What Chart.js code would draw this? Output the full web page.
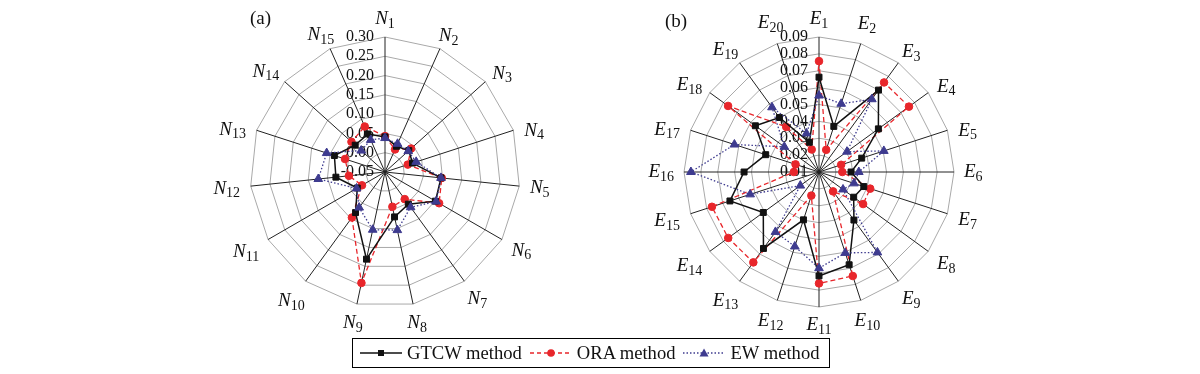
<!DOCTYPE html>
<html>
<head>
<meta charset="utf-8">
<script src="https://cdn.jsdelivr.net/npm/chart.js@4/dist/chart.umd.min.js"></script>
<style>
  body { margin:0; background:#fff; width:1200px; height:374px; position:relative; overflow:hidden; font-family:"Liberation Serif", "Times New Roman", serif; }
  canvas { position:absolute; top:0; }
  #chartA { left:170px; }
  #chartB { left:605px; }
  #legend { position:absolute; left:352px; top:338px; width:469px; height:28px; border:1.5px solid #000; display:flex; align-items:center; font-size:18.6px; color:#111; padding-left:7px; box-sizing:content-box; white-space:nowrap; }
  #legend .item { display:flex; align-items:center; margin-right:8px; flex-shrink:0; }
  #legend svg { margin-right:5px; flex-shrink:0; }
</style>
</head>
<body>
<canvas id="chartA" width="430" height="340"></canvas>
<canvas id="chartB" width="430" height="340"></canvas>
<div id="legend"></div>
<script>
// (a) criteria weights N1..N15
const labelsA = ['N1','N2','N3','N4','N5','N6','N7','N8','N9','N10','N11','N12','N13','N14','N15'];
const gtcwA = [0.041,0.023,0.033,0.025,0.096,0.101,0.053,0.069,0.181,0.080,0.033,0.078,0.088,0.054,0.058];
const oraA  = [0.043,0.014,0.041,0.012,0.098,0.112,0.037,0.042,0.244,0.096,0.019,0.044,0.059,0.067,0.079];
const ewA   = [0.038,0.030,0.031,0.035,0.096,0.103,0.063,0.104,0.103,0.064,0.035,0.124,0.109,0.033,0.041];
const ticksA = ['0.30','0.25','0.20','0.15','0.10','0.05','0.00','-0.05'];

// (b) indicator weights E1..E20
const labelsB = ['E1','E2','E3','E4','E5','E6','E7','E8','E9','E10','E11','E12','E13','E14','E15','E16','E17','E18','E19','E20'];
const gtcwB = [0.0662,0.0384,0.0700,0.0535,0.0366,0.0290,0.0379,0.0354,0.0452,0.0678,0.0716,0.0398,0.0660,0.0508,0.0655,0.0544,0.0432,0.0566,0.0499,0.0285];
const oraB  = [0.0757,0.0238,0.0756,0.0759,0.0238,0.0238,0.0419,0.0423,0.0242,0.0748,0.0760,0.0247,0.0762,0.0765,0.0767,0.0249,0.0246,0.0766,0.0430,0.0240];
const ewB   = [0.0553,0.0525,0.0633,0.0305,0.0504,0.0336,0.0318,0.0276,0.0689,0.0604,0.0670,0.0564,0.0539,0.0237,0.0529,0.0859,0.0627,0.0354,0.0574,0.0340];
const ticksB = ['0.09','0.08','0.07','0.06','0.05','0.04','0.03','0.02','0.01'];

const BLACK = '#111111', RED = '#e8262b', BLUE = '#3e3b8f';
const SERIF = '"Liberation Serif", "Times New Roman", serif';

// tick labels under the data, axis labels with subscripts and panel tag on top
const radarText = {
  id: 'radarText',
  beforeDatasetsDraw(chart, args, opts) {
    const r = chart.scales.r, ctx = chart.ctx;
    ctx.save();
    ctx.font = '16px ' + SERIF;
    ctx.fillStyle = '#111';
    ctx.textAlign = 'right';
    ctx.textBaseline = 'middle';
    opts.ticks.forEach(t => {
      const d = r.getDistanceFromCenterForValue(parseFloat(t));
      ctx.fillText(t, r.xCenter - 11, r.yCenter - d);
    });
    ctx.restore();
  },
  afterDraw(chart, args, opts) {
    const r = chart.scales.r, ctx = chart.ctx;
    const R = r.drawingArea;
    ctx.save();
    ctx.fillStyle = '#111';
    ctx.textAlign = 'left';
    ctx.textBaseline = 'middle';
    chart.data.labels.forEach((lab, i) => {
      const m = lab.match(/^([A-Z]+)(\d+)$/);
      ctx.font = 'italic 19px ' + SERIF;
      const w1 = ctx.measureText(m[1]).width;
      ctx.font = '14px ' + SERIF;
      const w2 = ctx.measureText(m[2]).width;
      const w = w1 + w2, h = 16;
      const ang = r.getIndexAngle(i);
      const s = Math.abs(Math.sin(ang)), c = Math.abs(Math.cos(ang));
      const p = r.getPointPosition(i, R + 10 + s * w / 2 + c * h / 2);
      // upper diagonal labels sit a little lower in the original
      const dy = (Math.cos(ang) > 0.15 && s > 0.35) ? 7 : 0;
      const x0 = p.x - w / 2;
      ctx.font = 'italic 19px ' + SERIF;
      ctx.fillText(m[1], x0, p.y + dy);
      ctx.font = '14px ' + SERIF;
      ctx.fillText(m[2], x0 + w1, p.y + dy + 5);
    });
    ctx.font = '19px ' + SERIF;
    ctx.fillText(opts.tag, opts.tagX, opts.tagY);
    ctx.restore();
  }
};

function makeSets(g, o, e) {
  return [
    {label:'GTCW method', data:g, borderColor:BLACK, backgroundColor:BLACK, borderWidth:1.5,
     pointStyle:'rect', pointRadius:4.2, pointBorderWidth:1, fill:false, order:1},
    {label:'ORA method', data:o, borderColor:RED, backgroundColor:RED, borderWidth:1.3, borderDash:[5,3],
     pointStyle:'circle', pointRadius:3.8, pointBorderWidth:1, fill:false, order:2},
    {label:'EW method', data:e, borderColor:BLUE, backgroundColor:BLUE, borderWidth:1.3, borderDash:[1.5,2],
     pointStyle:'triangle', pointRadius:5, pointBorderWidth:1, fill:false, order:0}
  ];
}

function makeOptions(min, max, step, ticks, tag, tagX, tagY, padL, padR) {
  return {
    responsive:false,
    animation:false,
    layout:{ padding:{ left:padL, right:padR, top:37, bottom:33 } },
    elements:{ line:{ tension:0 } },
    plugins:{
      legend:{ display:false },
      tooltip:{ enabled:false },
      radarText:{ ticks:ticks, tag:tag, tagX:tagX, tagY:tagY }
    },
    scales:{
      r:{
        min:min, max:max,
        ticks:{ display:false, stepSize:step },
        pointLabels:{ display:false },
        grid:{ color:'#a9a9a9', lineWidth:1 },
        angleLines:{ color:'#222', lineWidth:1 }
      }
    }
  };
}

new Chart(document.getElementById('chartA'), {
  type:'radar',
  data:{ labels:labelsA, datasets:makeSets(gtcwA, oraA, ewA) },
  options:makeOptions(-0.05, 0.30, 0.05, ticksA, '(a)', 80, 19, 80, 80),
  plugins:[radarText]
});

new Chart(document.getElementById('chartB'), {
  type:'radar',
  data:{ labels:labelsB, datasets:makeSets(gtcwB, oraB, ewB) },
  options:makeOptions(0.01, 0.09, 0.01, ticksB, '(b)', 60, 22, 79, 81),
  plugins:[radarText]
});

// legend
const legendItems = [
  {text:'GTCW method', color:BLACK, dash:'', marker:'<rect x="18" y="3" width="6" height="6" fill="'+BLACK+'"/>'},
  {text:'ORA method', color:RED, dash:'4 3', marker:'<circle cx="21" cy="6" r="3.8" fill="'+RED+'"/>'},
  {text:'EW method', color:BLUE, dash:'1.5 2', marker:'<polygon points="21,1.5 25.5,9.5 16.5,9.5" fill="'+BLUE+'"/>'}
];
const legend = document.getElementById('legend');
legendItems.forEach(it => {
  const d = document.createElement('div');
  d.className = 'item';
  d.innerHTML = '<svg width="42" height="12"><line x1="0" y1="6" x2="42" y2="6" stroke="' + it.color +
    '" stroke-width="1.5"' + (it.dash ? ' stroke-dasharray="' + it.dash + '"' : '') + '/>' + it.marker + '</svg>' +
    '<span>' + it.text + '</span>';
  legend.appendChild(d);
});
</script>
</body>
</html>
